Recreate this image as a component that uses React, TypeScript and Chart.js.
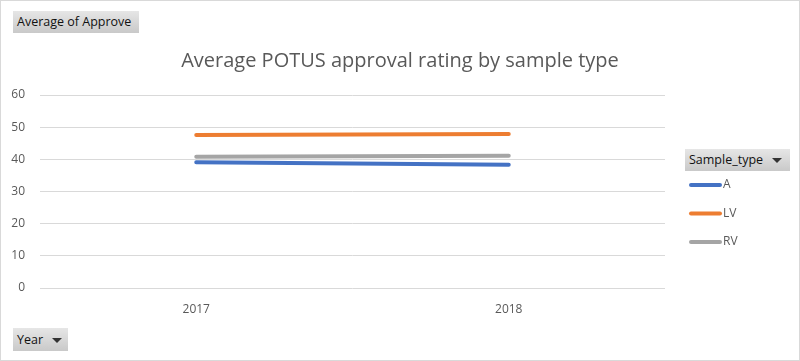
import React, { useEffect, useRef } from "react";
import { Chart, registerables } from "chart.js";

Chart.register(...registerables);

const categories = ["2017", "2018"];
const seriesNames = ["A", "LV", "RV"];
const seriesA = [39.1, 38.3];
const seriesLV = [47.6, 47.9];
const seriesRV = [40.8, 41.1];
const seriesColors = ["#4472C4", "#ED7D31", "#A5A5A5"];
const yTicks = [0, 10, 20, 30, 40, 50, 60];
const titleText = "Average POTUS approval rating by sample type";
const legendTitle = "Sample_type";
const valueButton = "Average of Approve";
const axisButton = "Year";

const FONT = "'Open Sans', sans-serif";

const btnStyle = (left: number, top: number, width: number, height: number): React.CSSProperties => ({
  position: "absolute",
  left,
  top,
  width,
  height,
  boxSizing: "border-box",
  background: "linear-gradient(#e6e6e6, #c9c9c9)",
  fontFamily: FONT,
  fontSize: 12.5,
  color: "#111",
  lineHeight: height + "px",
  paddingLeft: 4,
  whiteSpace: "nowrap",
});

const Arrow = () => (
  <span
    style={{
      display: "inline-block",
      width: 0,
      height: 0,
      borderLeft: "5px solid transparent",
      borderRight: "5px solid transparent",
      borderTop: "5px solid #333",
      marginLeft: 9,
      verticalAlign: "middle",
    }}
  />
);

export default function App() {
  const ref = useRef<HTMLCanvasElement | null>(null);

  useEffect(() => {
    if (!ref.current) return;
    const values = [seriesA, seriesLV, seriesRV];
    const chart = new Chart(ref.current, {
      type: "line",
      data: {
        labels: categories,
        datasets: seriesNames.map((n, i) => ({
          label: n,
          data: values[i],
          borderColor: seriesColors[i],
          backgroundColor: seriesColors[i],
          borderWidth: 4,
          borderCapStyle: "round",
          pointRadius: 0,
          tension: 0,
        })),
      },
      options: {
        animation: false,
        responsive: false,
        layout: { padding: { top: 95, right: 135, left: 0, bottom: 0 } },
        plugins: {
          legend: { display: false },
          title: { display: false },
          tooltip: { enabled: false },
        },
        scales: {
          x: {
            offset: true,
            grid: { display: false, drawTicks: false },
            border: { display: false },
            ticks: { color: "#595959", font: { family: FONT, size: 12 }, padding: 14 },
            afterFit: (s: any) => {
              s.height = 73;
            },
          },
          y: {
            min: 0,
            max: 60,
            afterBuildTicks: (s: any) => {
              s.ticks = yTicks.map((v) => ({ value: v }));
            },
            grid: { color: "#d9d9d9", drawTicks: false, lineWidth: 1 },
            border: { display: false },
            ticks: { color: "#595959", font: { family: FONT, size: 12 }, padding: 15 },
            afterFit: (s: any) => {
              s.width = 40;
            },
          },
        },
      },
      plugins: [
        {
          id: "frame",
          beforeDraw(c: any) {
            const ctx = c.ctx;
            ctx.save();
            ctx.fillStyle = "#fff";
            ctx.fillRect(0, 0, c.width, c.height);
            ctx.strokeStyle = "#d9d9d9";
            ctx.lineWidth = 1;
            ctx.strokeRect(0.5, 0.5, c.width - 1, c.height - 1);
            ctx.restore();
          },
          afterDraw(c: any) {
            const ctx = c.ctx;
            ctx.save();
            ctx.fillStyle = "#595959";
            ctx.font = `20px ${FONT}`;
            ctx.textAlign = "center";
            ctx.textBaseline = "middle";
            ctx.fillText(titleText, c.width / 2, 61);
            // legend
            c.data.datasets.forEach((d: any, i: number) => {
              const y = 185 + i * 28.5;
              ctx.strokeStyle = d.borderColor;
              ctx.lineWidth = 4;
              ctx.lineCap = "round";
              ctx.beginPath();
              ctx.moveTo(691, y);
              ctx.lineTo(720, y);
              ctx.stroke();
              ctx.fillStyle = "#595959";
              ctx.font = `12px ${FONT}`;
              ctx.textAlign = "left";
              ctx.fillText(d.label, 723, y);
            });
            ctx.restore();
          },
        },
      ],
    } as any);
    return () => chart.destroy();
  }, []);

  return (
    <div style={{ position: "fixed", left: 0, top: 0, width: 800, height: 361, background: "#fff" }}>
      <canvas ref={ref} width={800} height={361} style={{ position: "absolute", left: 0, top: 0 }} />
      <div style={btnStyle(13, 11, 126, 22)}>{valueButton}</div>
      <div style={btnStyle(13, 328, 55, 23)}>
        {axisButton}
        <Arrow />
      </div>
      <div style={btnStyle(685, 149, 105, 22)}>
        {legendTitle}
        <Arrow />
      </div>
    </div>
  );
}
